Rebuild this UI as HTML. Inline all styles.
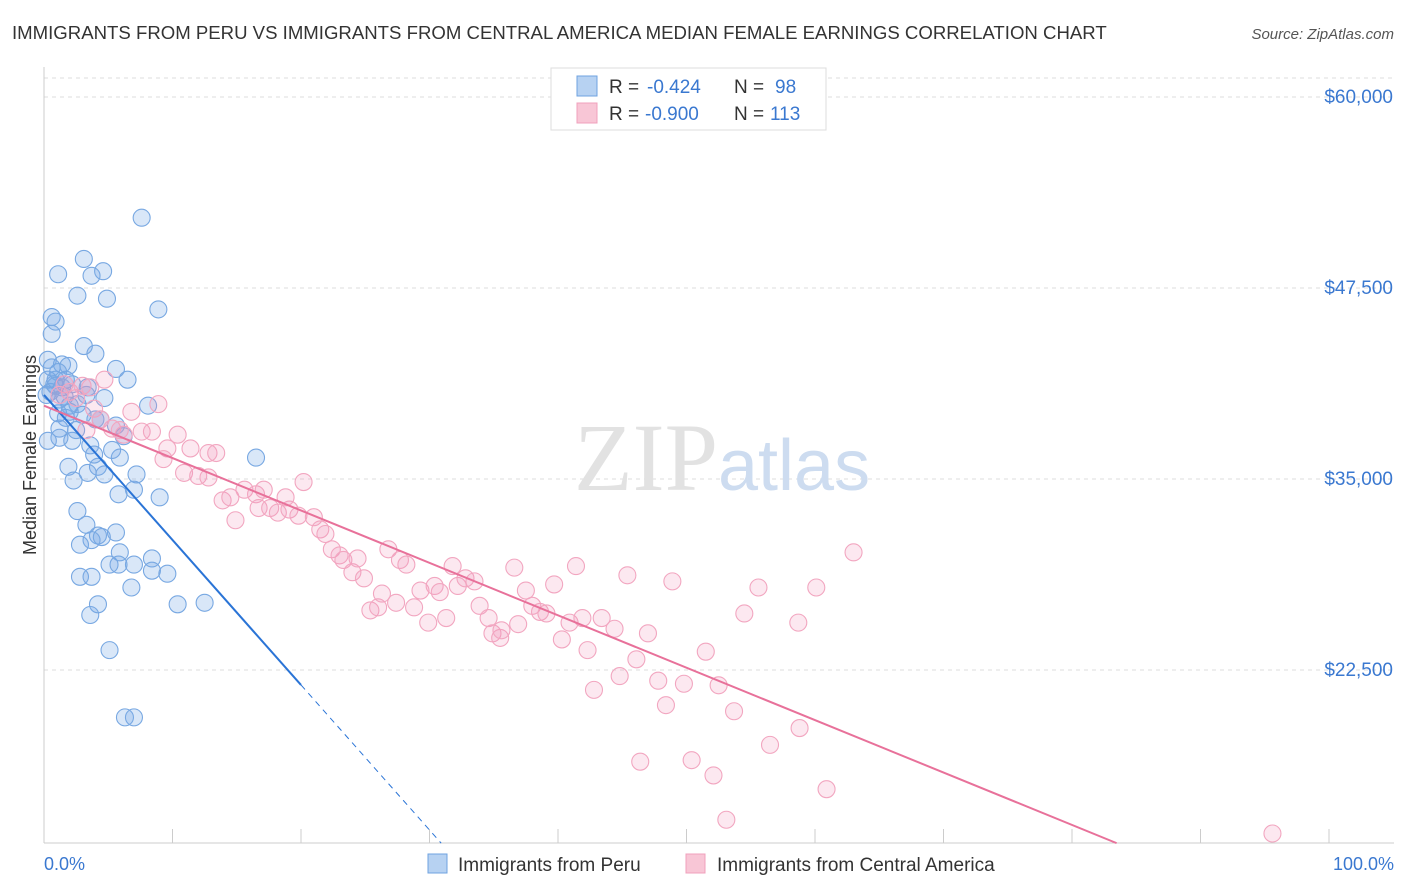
<!DOCTYPE html>
<html><head><meta charset="utf-8"><style>
body{margin:0;background:#fff;font-family:"Liberation Sans",sans-serif;}
svg{display:block}
</style></head><body>
<svg width="1406" height="892" viewBox="0 0 1406 892" xmlns="http://www.w3.org/2000/svg">
<text x="12" y="39" font-size="18.6" fill="#333">IMMIGRANTS FROM PERU VS IMMIGRANTS FROM CENTRAL AMERICA MEDIAN FEMALE EARNINGS CORRELATION CHART</text>
<text x="1394" y="39" font-size="15" fill="#555" font-style="italic" text-anchor="end">Source: ZipAtlas.com</text>
<g id="grid"></g>
<text x="718" y="490" font-size="96" fill="#e2e2e2" text-anchor="end" font-family="Liberation Serif,serif">ZIP</text>
<text x="718" y="490" font-size="72" fill="#cddcf0">atlas</text>
<g id="marks"></g>
<text x="36" y="455" font-size="18" fill="#333" text-anchor="middle" transform="rotate(-90 36 455)">Median Female Earnings</text>
<text x="44" y="870" font-size="18" fill="#3a78d0">0.0%</text>
<text x="1394" y="870" font-size="18" fill="#3a78d0" text-anchor="end">100.0%</text>
<g>
<rect x="551" y="68" width="275" height="62" fill="#fff" stroke="#ddd"/>
<rect x="577" y="76" width="20" height="20" fill="#b7d2f2" stroke="#6fa3e0"/>
<text x="609" y="93" font-size="19" fill="#333">R =</text>
<text x="647" y="93" font-size="19" fill="#3a78d0">-0.424</text>
<text x="734" y="93" font-size="19" fill="#333">N =</text>
<text x="775" y="93" font-size="19" fill="#3a78d0">98</text>
<rect x="577" y="103" width="20" height="20" fill="#f8c6d6" stroke="#f0a0bc"/>
<text x="609" y="120" font-size="19" fill="#333">R =</text>
<text x="645" y="120" font-size="19" fill="#3a78d0">-0.900</text>
<text x="734" y="120" font-size="19" fill="#333">N =</text>
<text x="770" y="120" font-size="19" fill="#3a78d0">113</text>
</g>
<g>
<rect x="428" y="854" width="19" height="19" fill="#b7d2f2" stroke="#6fa3e0"/>
<text x="458" y="871" font-size="19" fill="#333">Immigrants from Peru</text>
<rect x="686" y="854" width="19" height="19" fill="#f8c6d6" stroke="#f0a0bc"/>
<text x="717" y="871" font-size="19" fill="#333">Immigrants from Central America</text>
</g>
</svg>
<script>
const yTicks=[22500,35000,47500,60000];
const yTickLabels=["$22,500","$35,000","$47,500","$60,000"];
const peruX=[7.6,3.1,1.1,4.6,3.7,2.6,4.9,8.9,0.6,0.9,0.6,3.1,4.0,5.6,1.4,1.9,1.1,0.3,0.8,1.4,2.2,3.4,4.7,6.5,8.1,2.0,2.6,1.1,1.7,4.0,5.6,6.2,1.2,2.2,3.6,5.9,16.5,1.9,4.2,3.4,4.7,7.2,2.3,5.8,7.0,9.0,2.6,3.3,5.6,4.2,4.5,3.7,2.8,5.9,8.4,7.0,5.1,5.8,8.4,9.6,2.8,3.7,6.8,4.2,3.6,10.4,12.5,5.1,6.3,7.0,0.3,0.2,0.5,0.9,1.6,2.0,3.0,3.3,1.2,4.4,5.3,0.3,0.6,0.9,1.7,1.2,2.5,3.9];
const peruY=[52.1,49.4,48.4,48.6,48.3,47.0,46.8,46.1,45.6,45.3,44.5,43.7,43.2,42.2,42.5,42.4,42.0,41.5,41.2,41.0,41.2,41.0,40.3,41.5,39.8,39.8,39.9,39.3,39.0,38.9,38.5,37.8,37.7,37.5,37.2,36.4,36.4,35.8,35.8,35.4,35.3,35.3,34.9,34.0,34.3,33.8,32.9,32.0,31.5,31.3,31.2,31.0,30.7,30.2,29.8,29.4,29.4,29.4,29.0,28.8,28.6,28.6,27.9,26.8,26.1,26.8,26.9,23.8,19.4,19.4,37.5,40.5,40.7,41.5,40.4,39.4,39.2,40.5,40.2,38.9,36.9,42.8,42.3,41.1,41.5,38.3,38.2,36.6];
const caX=[4.7,1.6,2.0,3.0,3.6,2.5,1.2,3.9,6.8,8.9,5.3,6.2,7.6,8.4,10.4,11.4,12.8,13.4,9.6,9.3,10.9,12.0,12.8,13.9,14.5,14.9,15.6,16.5,16.7,17.1,17.6,18.2,19.1,19.8,18.8,20.2,21.0,21.5,21.9,22.4,23.0,23.3,24.0,24.4,24.9,25.4,26.0,26.3,26.8,27.4,27.7,28.2,28.8,29.3,29.9,30.4,30.8,31.3,31.8,32.2,32.8,33.5,33.9,34.6,34.9,35.5,35.6,36.6,36.9,37.5,38.0,38.6,39.1,39.7,40.3,40.9,41.4,41.9,42.3,42.8,43.4,44.4,44.8,45.4,46.1,47.0,47.8,48.4,48.9,49.8,50.4,51.5,52.1,52.5,53.1,53.7,54.5,55.6,56.5,58.7,58.8,60.1,60.9,63.0,46.4,95.6,4.4,3.3,5.9];
const caY=[41.5,41.2,40.7,41.1,41.0,40.3,40.5,39.6,39.4,39.9,38.3,37.9,38.1,38.1,37.9,37.0,36.7,36.7,37.0,36.3,35.4,35.2,35.1,33.6,33.8,32.3,34.3,34.0,33.1,34.3,33.1,32.8,33.0,32.6,33.8,34.8,32.5,31.7,31.4,30.4,30.0,29.7,28.9,29.8,28.5,26.4,26.6,27.5,30.4,26.9,29.7,29.4,26.6,27.7,25.6,28.0,27.6,25.9,29.3,28.0,28.5,28.3,26.7,25.9,24.9,24.6,25.1,29.2,25.5,27.7,26.7,26.3,26.2,28.1,24.5,25.6,29.3,25.9,23.8,21.2,25.9,25.2,22.1,28.7,23.2,24.9,21.8,20.2,28.3,21.6,16.6,23.7,15.6,21.5,12.7,19.8,26.2,27.9,17.6,25.6,18.7,27.9,14.7,30.2,16.5,11.8,38.9,38.2,38.2];
const peruTrend=[40.5,-0.949];
const caTrend=[39.8,-0.343];
const NS="http://www.w3.org/2000/svg";
const X=p=>44+p*12.85;
const Y=v=>97+(60-v)*191/12.5;
const grid=document.getElementById('grid'),marks=document.getElementById('marks');
function mk(tag,attrs,parent){const e=document.createElementNS(NS,tag);for(const k in attrs)e.setAttribute(k,attrs[k]);parent.appendChild(e);return e;}
mk('line',{x1:44,x2:1394,y1:78,y2:78,stroke:'#ddd','stroke-dasharray':'4 4'},grid);
yTicks.forEach((t,i)=>{
  const l=mk('line',{x1:44,x2:1394,y1:Y(t/1000),y2:Y(t/1000),stroke:'#ddd','stroke-dasharray':'4 4'},grid);
  
  
  const tx=mk('text',{x:1393,y:Y(t/1000)+6,'font-size':19,fill:'#3a78d0','text-anchor':'end'},grid);
  tx.textContent=yTickLabels[i];
  
  
});
mk('line',{x1:44,x2:44,y1:67,y2:843,stroke:'#ccc'},grid);
mk('line',{x1:44,x2:1394,y1:843,y2:843,stroke:'#ccc'},grid);
for(let p=10;p<=100;p+=10){const t=mk('line',{x1:X(p),x2:X(p),y1:829,y2:843,stroke:'#ccc'},grid);
  
  }
function dots(xs,ys,fill,stroke,name){xs.forEach((x,i)=>{
  const c=mk('circle',{cx:X(x),cy:Y(ys[i]),r:8.5,fill:fill,stroke:stroke,'stroke-width':1.1},marks);
  
  });}
dots(peruX,peruY,'rgba(120,170,230,0.28)','#78a8e2','peru-point');
dots(caX,caY,'rgba(240,150,185,0.22)','#f2a6c0','central-america-point');
function yAt(tr,p){return tr[0]+tr[1]*p;}
let l=mk('line',{x1:X(0),y1:Y(yAt(peruTrend,0)),x2:X(20),y2:Y(yAt(peruTrend,20)),stroke:'#2a74d6','stroke-width':2},marks);


const pEnd=(peruTrend[0]-11.17)/-peruTrend[1];
l=mk('line',{x1:X(20),y1:Y(yAt(peruTrend,20)),x2:X(pEnd),y2:Y(yAt(peruTrend,pEnd)),stroke:'#2a74d6','stroke-width':1,'stroke-dasharray':'6 5'},marks);


const cEnd=(caTrend[0]-11.17)/-caTrend[1];
l=mk('line',{x1:X(0),y1:Y(yAt(caTrend,0)),x2:X(cEnd),y2:Y(yAt(caTrend,cEnd)),stroke:'#e8719a','stroke-width':2},marks);


</script>
</body></html>
